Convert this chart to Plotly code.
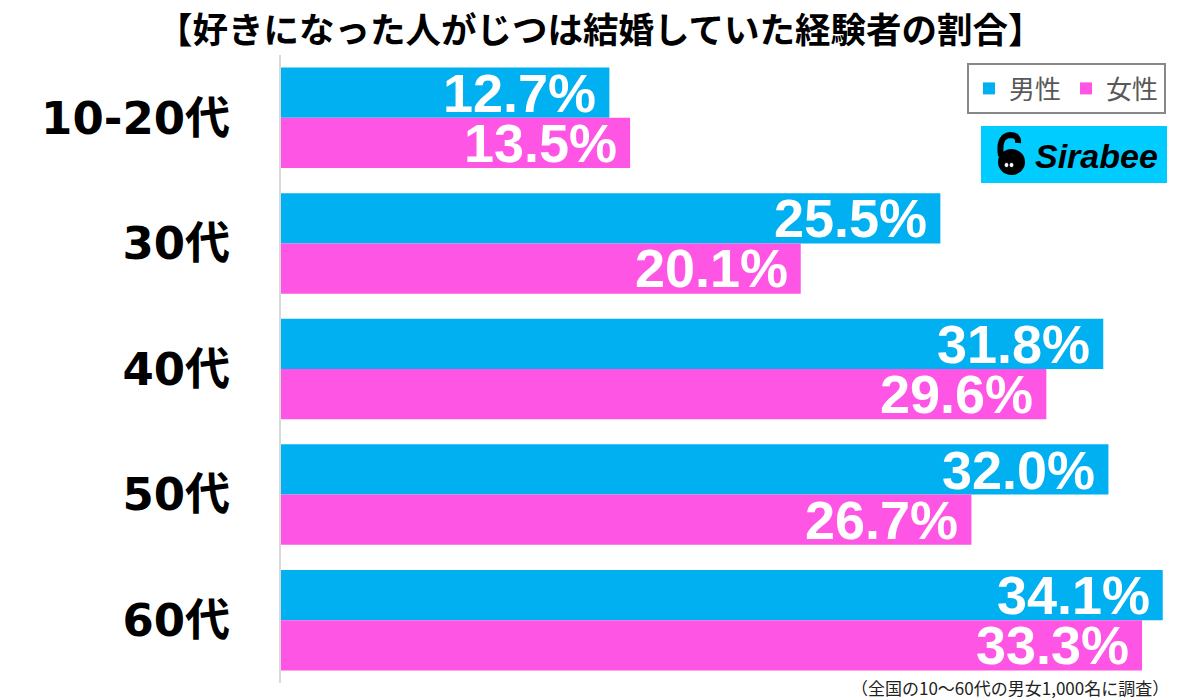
import plotly.graph_objects as go

# ---- data ----
categories = ["10-20代", "30代", "40代", "50代", "60代"]
male = [12.7, 25.5, 31.8, 32.0, 34.1]
female = [13.5, 20.1, 29.6, 26.7, 33.3]
series_names = ["男性", "女性"]
title_text = "【好きになった人がじつは結婚していた経験者の割合】"
note_text = "（全国の10〜60代の男女1,000名に調査）"

BLUE = "#00B0F0"
PINK = "#FF55E5"
W, H = 1200, 699
ML, MR, MT, MB = 281, 14, 55, 16
XMAX = 35
PW = W - ML - MR
PH = H - MT - MB


def px(x):
    return (x - ML) / PW


def py(y):
    return (H - MB - y) / PH


NUMFONT = "Liberation Sans, Arial, Noto Sans CJK JP, sans-serif"
TICKFONT = "DejaVu Sans, Noto Sans CJK JP, sans-serif"
JPFONT = "Noto Sans CJK JP, sans-serif"

fig = go.Figure()
fig.add_trace(go.Bar(y=categories, x=male, name=series_names[0], orientation="h",
                     marker=dict(color=BLUE, line=dict(width=0)), hoverinfo="x+y"))
fig.add_trace(go.Bar(y=categories, x=female, name=series_names[1], orientation="h",
                     marker=dict(color=PINK, line=dict(width=0)), hoverinfo="x+y"))

annotations = []
for vals, shift in ((male, 25), (female, -25)):
    for c, v in zip(categories, vals):
        annotations.append(dict(
            x=v, y=c, xref="x", yref="y", text=f"{v:.1f}%", showarrow=False,
            xanchor="right", yanchor="middle", xshift=-11, yshift=shift,
            font=dict(family=NUMFONT, size=54, color="white", weight="bold")))

# title
annotations.append(dict(x=px(600), y=py(27), xref="paper", yref="paper", text=title_text,
                        showarrow=False, xanchor="center", yanchor="middle",
                        font=dict(family=JPFONT, size=35.5, color="black", weight="bold")))
# footnote
annotations.append(dict(x=px(1171), y=py(687), xref="paper", yref="paper", text=note_text,
                        showarrow=False, xanchor="right", yanchor="middle",
                        font=dict(family=JPFONT, size=17, color="#222222")))
# logo text
annotations.append(dict(x=px(1096), y=py(156), xref="paper", yref="paper", text="Sirabee",
                        showarrow=False, xanchor="center", yanchor="middle",
                        font=dict(family=NUMFONT, size=34, color="black", weight="bold",
                                  style="italic")))

shapes = [
    dict(type="rect", xref="paper", yref="paper", x0=px(981), x1=px(1167), y0=py(183), y1=py(126),
         fillcolor="#00CCFF", line=dict(width=0), layer="above"),
    dict(type="circle", xref="paper", yref="paper", x0=px(998), x1=px(1025), y0=py(175), y1=py(149),
         fillcolor="black", line=dict(width=0), layer="above"),
    dict(type="path", xref="paper", yref="paper",
         path=f"M {px(1001)},{py(156)} Q {px(998)},{py(136)} {px(1010)},{py(135)} Q {px(1019)},{py(135)} {px(1018)},{py(143)}",
         line=dict(color="black", width=6), layer="above"),
    dict(type="circle", xref="paper", yref="paper", x0=px(1004), x1=px(1009), y0=py(167.5), y1=py(162.5),
         fillcolor="white", line=dict(color="black", width=1), layer="above"),
    dict(type="circle", xref="paper", yref="paper", x0=px(1009), x1=px(1014), y0=py(167.5), y1=py(162.5),
         fillcolor="white", line=dict(color="black", width=1), layer="above"),
]

fig.update_layout(
    template="none",
    width=W, height=H,
    margin=dict(l=ML, r=MR, t=MT, b=MB, pad=0, autoexpand=False),
    paper_bgcolor="white", plot_bgcolor="white",
    barmode="group", bargap=0.2, bargroupgap=0,
    showlegend=True,
    legend=dict(orientation="h", x=px(1166), y=py(63), xanchor="right", yanchor="top",
                xref="paper", yref="paper",
                font=dict(family=JPFONT, size=26, color="#595959"),
                bordercolor="#888888", borderwidth=2, bgcolor="white",
                traceorder="normal", itemclick=False, itemdoubleclick=False),
    xaxis=dict(range=[0, XMAX], showgrid=False, zeroline=False, showticklabels=False,
               showline=False, fixedrange=True, automargin=False),
    yaxis=dict(autorange="reversed", showgrid=False, zeroline=False, showline=True,
               linecolor="#D9D9D9", linewidth=2, ticks="", ticklabelstandoff=40,
               tickfont=dict(family=TICKFONT, size=45, color="black", weight="bold"),
               fixedrange=True, automargin=False),
    annotations=annotations,
    shapes=shapes,
)

fig.write_html(
    "out.html",
    config={"displayModeBar": False},
    post_script="document.body.style.margin='0px';document.body.style.padding='0px';"
                "document.body.style.overflow='hidden';",
)
